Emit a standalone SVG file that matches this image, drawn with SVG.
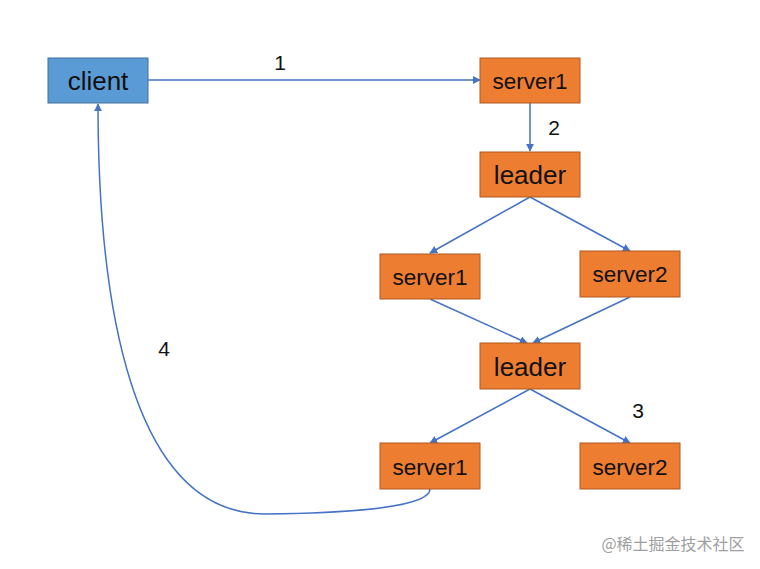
<svg xmlns="http://www.w3.org/2000/svg" width="760" height="569" viewBox="0 0 760 569">
<defs>
<marker id="arr" viewBox="0 0 10 10" refX="9" refY="5" markerWidth="8" markerHeight="8" markerUnits="userSpaceOnUse" orient="auto">
<path d="M0,0 L10,5 L0,10 z" fill="#4472C4"/>
</marker>
<style>
.box{fill:#ED7D31;stroke:#AE5A21;stroke-width:1}
.cbox{fill:#5B9BD5;stroke:#41719C;stroke-width:1}
.t{font-family:"Liberation Sans","Noto Sans CJK SC",sans-serif;fill:#111;text-anchor:middle;dominant-baseline:central}
.s{font-size:22.5px}
.b{font-size:26px}
.n{font-family:"Liberation Sans",sans-serif;font-size:21px;fill:#111;text-anchor:middle;dominant-baseline:central}
.c{fill:none;stroke:#4472C4;stroke-width:1.5;marker-end:url(#arr)}
</style>
</defs>
<rect width="760" height="569" fill="#fff"/>
<g id="connectors">
<line class="c" x1="148" y1="80" x2="480" y2="80"/>
<line class="c" x1="530" y1="103" x2="530" y2="151"/>
<line class="c" x1="530" y1="197" x2="430" y2="253"/>
<line class="c" x1="530" y1="197" x2="630" y2="251"/>
<line class="c" x1="430" y1="299" x2="527" y2="343"/>
<line class="c" x1="630" y1="297" x2="533" y2="343"/>
<line class="c" x1="530" y1="389" x2="430" y2="443"/>
<line class="c" x1="530" y1="389" x2="630" y2="443"/>
<path class="c" d="M430,489 C430,506 360,513 265,514 C130,514 98,300 98,104"/>
<text class="n" x="280" y="62">1</text>
<text class="n" x="554" y="127">2</text>
<text class="n" x="638" y="410">3</text>
<text class="n" x="164" y="348">4</text>
</g>
<g id="client"><rect class="cbox" x="48" y="58" width="100" height="45"/><text class="t b" x="98" y="81">client</text></g>
<g id="server1-top"><rect class="box" x="480" y="58" width="100" height="45"/><text class="t s" x="530" y="81">server1</text></g>
<g id="leader-1"><rect class="box" x="480" y="152" width="100" height="45"/><text class="t b" x="530" y="175">leader</text></g>
<g id="server1-mid"><rect class="box" x="380" y="254" width="100" height="45"/><text class="t s" x="430" y="277">server1</text></g>
<g id="server2-mid"><rect class="box" x="580" y="251" width="100" height="46"/><text class="t s" x="630" y="274">server2</text></g>
<g id="leader-2"><rect class="box" x="480" y="343" width="100" height="46"/><text class="t b" x="530" y="367">leader</text></g>
<g id="server1-bot"><rect class="box" x="380" y="443" width="100" height="46"/><text class="t s" x="430" y="467">server1</text></g>
<g id="server2-bot"><rect class="box" x="580" y="443" width="100" height="46"/><text class="t s" x="630" y="467">server2</text></g>
<text x="673" y="543" font-family="Noto Sans CJK SC, sans-serif" font-size="16" fill="#a0a0a0" text-anchor="middle" dominant-baseline="central">@稀土掘金技术社区</text>
</svg>
